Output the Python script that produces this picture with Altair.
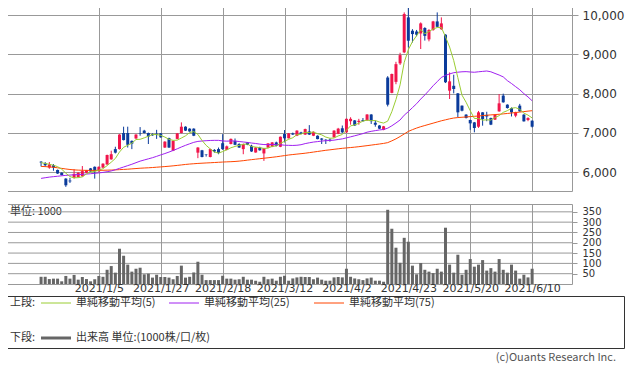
import altair as alt
import pandas as pd

# ---------------- data ----------------
market_holidays = ["2020-12-31", "2021-01-01", "2021-01-11", "2021-02-11", "2021-02-23",
                   "2021-04-29", "2021-05-03", "2021-05-04", "2021-05-05"]
trade_days = pd.bdate_range("2020-12-14", "2021-06-10", freq="C", holidays=market_holidays)
dates = [f"{d.year}/{d.month}/{d.day}" for d in trade_days]

tick_dates = ["2021/1/5", "2021/1/27", "2021/2/18", "2021/3/12",
              "2021/4/2", "2021/4/23", "2021/5/20", "2021/6/10"]
price_ticks = [6000, 7000, 8000, 9000, 10000]
vol_ticks = [50, 100, 150, 200, 250, 300, 350]

opens = [6270, 6230, 6120, 6180, 6060, 5990, 5840, 5790, 5860, 5880,
         5900, 5990, 6100, 6140, 6030, 6120, 6200, 6330, 6590, 6590,
         7000, 7000, 6800, 6860, 7000, 7060, 7000, 6970, 6980, 6990,
         6630, 6870, 6550, 6850, 7000, 7160, 7110, 7110, 6500, 6560,
         6450, 6390, 6570, 6590, 6740, 6570, 6720, 6800, 6720, 6590,
         6760, 6675, 6505, 6630, 6480, 6630, 6650, 6760, 6650, 6975,
         6865, 6990, 6930, 7015, 6960, 7040, 6930, 6930, 6860, 6830,
         6830, 6890, 6980, 7120, 7017, 7300, 7320, 7280, 7330, 7320,
         7470, 7260, 7190, 7080, 8410, 8020, 8300, 8770, 9050, 9940,
         9600, 9580, 9530, 9670, 9380, 9617, 9837, 9640, 9500, 8076,
         8200, 8008, 7695, 7466, 7330, 7270, 7160, 7525, 7460, 7380,
         7340, 7550, 7950, 7720, 7635, 7440, 7695, 7466, 7330, 7313]
highs = [6285, 6260, 6260, 6210, 6070, 6000, 5850, 5860, 6080, 6000,
         6160, 6060, 6110, 6150, 6150, 6230, 6450, 6550, 6650, 6970,
         7160, 7160, 6810, 6970, 7150, 7080, 7010, 6990, 7080, 7000,
         6790, 6880, 6810, 7000, 7270, 7170, 7120, 7120, 6640, 6570,
         6460, 6600, 6590, 6630, 6970, 6680, 6860, 6860, 6740, 6730,
         6770, 6700, 6640, 6650, 6620, 6740, 6770, 6780, 6910, 7075,
         7000, 7010, 7070, 7030, 7110, 7200, 7040, 6940, 6870, 6840,
         6860, 7070, 7130, 7190, 7370, 7400, 7330, 7360, 7380, 7480,
         7480, 7320, 7200, 7180, 8445, 8510, 8810, 9040, 10066, 10210,
         9640, 9620, 9812, 9690, 9640, 9850, 10066, 9940, 9510, 8540,
         8482, 8015, 7700, 7480, 7340, 7280, 7560, 7530, 7540, 7390,
         7480, 7990, 8000, 7730, 7650, 7540, 7740, 7480, 7400, 7320]
lows = [6150, 6140, 6090, 6040, 5960, 5920, 5630, 5730, 5840, 5870,
        5890, 5980, 6010, 5840, 6010, 6110, 6190, 6320, 6480, 6580,
        6810, 6630, 6590, 6850, 6930, 6990, 6720, 6930, 6850, 6880,
        6620, 6620, 6540, 6840, 6990, 7050, 7030, 6920, 6360, 6380,
        6400, 6380, 6500, 6460, 6570, 6560, 6710, 6690, 6620, 6460,
        6690, 6520, 6500, 6550, 6290, 6620, 6640, 6660, 6640, 6760,
        6860, 6950, 6920, 6970, 6950, 6950, 6920, 6840, 6720, 6720,
        6780, 6880, 6970, 7000, 7000, 7210, 7180, 7210, 7290, 7310,
        7230, 7160, 7100, 7070, 7675, 8010, 8240, 8730, 9030, 9177,
        9300, 9460, 9135, 9350, 9330, 9600, 9690, 9620, 8270, 7864,
        8008, 7400, 7550, 7370, 7080, 7017, 7130, 7186, 7300, 7200,
        7330, 7540, 7770, 7620, 7420, 7400, 7540, 7290, 7300, 7140]
closes = [6250, 6180, 6200, 6120, 5970, 5930, 5670, 5770, 5960, 5990,
          6030, 6050, 6020, 6030, 6140, 6220, 6440, 6460, 6500, 6960,
          6820, 6700, 6730, 6960, 6990, 7000, 6910, 6940, 6960, 6890,
          6780, 6630, 6800, 6990, 7160, 7060, 7040, 6930, 6630, 6390,
          6440, 6590, 6530, 6490, 6590, 6660, 6850, 6700, 6630, 6720,
          6700, 6530, 6630, 6560, 6615, 6735, 6760, 6675, 6905, 6865,
          6990, 6960, 7060, 6975, 7100, 6960, 7030, 6845, 6830, 6815,
          6810, 7060, 7110, 7017, 7360, 7360, 7190, 7310, 7300, 7470,
          7300, 7210, 7110, 7170, 7720, 8500, 8750, 8980, 10024, 9346,
          9515, 9500, 9787, 9470, 9620, 9837, 9700, 9787, 8290, 8313,
          8118, 7525, 7567, 7380, 7245, 7127, 7525, 7356, 7420, 7212,
          7457, 7754, 7780, 7635, 7525, 7525, 7550, 7296, 7380, 7160]
volumes = [35, 35, 24, 26, 26, 13, 39, 26, 44, 21,
           34, 24, 13, 23, 39, 35, 69, 87, 55, 171,
           137, 94, 60, 74, 79, 47, 50, 31, 45, 34,
           34, 31, 23, 39, 89, 31, 35, 56, 108, 45,
           19, 19, 19, 19, 40, 26, 26, 21, 23, 35,
           21, 21, 16, 11, 35, 23, 26, 16, 35, 40,
           16, 27, 32, 35, 34, 34, 23, 31, 21, 16,
           16, 32, 34, 32, 74, 35, 27, 23, 19, 27,
           31, 16, 16, 11, 360, 268, 176, 103, 224, 205,
           89, 47, 102, 69, 60, 53, 74, 60, 273, 94,
           55, 142, 45, 69, 121, 84, 94, 116, 65, 77,
           60, 121, 69, 55, 94, 65, 26, 45, 32, 74]
ma5 = [6245, 6225, 6205, 6180, 6144, 6080, 5978, 5892, 5860, 5864,
       5884, 5960, 6010, 6024, 6054, 6092, 6170, 6258, 6352, 6516,
       6636, 6688, 6742, 6834, 6840, 6876, 6918, 6960, 6960, 6940,
       6896, 6840, 6812, 6818, 6872, 6928, 7010, 7036, 6964, 6810,
       6686, 6596, 6516, 6488, 6528, 6572, 6624, 6658, 6686, 6712,
       6720, 6656, 6642, 6628, 6607, 6614, 6660, 6669, 6738, 6788,
       6839, 6879, 6956, 6970, 7017, 7011, 7025, 6982, 6953, 6896,
       6866, 6872, 6925, 6962, 7071, 7181, 7207, 7247, 7304, 7326,
       7314, 7318, 7278, 7252, 7302, 7542, 7850, 8224, 8795, 9120,
       9323, 9473, 9634, 9524, 9578, 9643, 9683, 9683, 9447, 9185,
       8842, 8407, 7963, 7781, 7567, 7369, 7369, 7327, 7335, 7328,
       7394, 7440, 7525, 7568, 7630, 7644, 7603, 7506, 7455, 7382]
ma25 = [5846, 5862, 5878, 5890, 5900, 5912, 5922, 5930, 5937, 5943,
        5948, 5955, 5964, 5974, 5985, 5998, 6015, 6035, 6065, 6100,
        6135, 6170, 6205, 6245, 6284, 6314, 6343, 6372, 6406, 6443,
        6477, 6515, 6556, 6598, 6644, 6686, 6725, 6762, 6786, 6796,
        6804, 6810, 6813, 6813, 6798, 6792, 6798, 6796, 6783, 6772,
        6760, 6745, 6733, 6717, 6706, 6704, 6709, 6704, 6701, 6689,
        6686, 6683, 6688, 6702, 6730, 6751, 6769, 6781, 6795, 6804,
        6810, 6818, 6835, 6850, 6876, 6902, 6929, 6956, 6985, 7020,
        7042, 7060, 7078, 7088, 7122, 7183, 7254, 7331, 7453, 7543,
        7645, 7744, 7862, 7967, 8080, 8201, 8306, 8413, 8464, 8502,
        8533, 8546, 8556, 8560, 8551, 8544, 8556, 8566, 8576, 8556,
        8514, 8474, 8426, 8331, 8258, 8178, 8100, 8001, 7917, 7819]
ma75 = [6150, 6145, 6138, 6128, 6115, 6100, 6085, 6072, 6062, 6056,
        6052, 6050, 6049, 6049, 6050, 6052, 6055, 6058, 6062, 6068,
        6074, 6080, 6088, 6096, 6104, 6110, 6115, 6122, 6130, 6138,
        6146, 6155, 6165, 6176, 6188, 6200, 6210, 6218, 6226, 6232,
        6238, 6243, 6249, 6255, 6261, 6266, 6270, 6276, 6285, 6296,
        6310, 6322, 6334, 6346, 6358, 6370, 6382, 6395, 6410, 6425,
        6440, 6452, 6463, 6474, 6486, 6500, 6515, 6530, 6545, 6560,
        6572, 6585, 6598, 6610, 6620, 6630, 6640, 6652, 6665, 6678,
        6692, 6706, 6720, 6735, 6755, 6800, 6850, 6910, 6975, 7040,
        7085, 7125, 7160, 7190, 7220, 7250, 7280, 7310, 7335, 7360,
        7380, 7392, 7400, 7408, 7416, 7424, 7432, 7442, 7452, 7460,
        7468, 7476, 7486, 7496, 7508, 7520, 7532, 7544, 7556, 7567]

ma_labels = ["単純移動平均(5)", "単純移動平均(25)", "単純移動平均(75)"]
upper_label = "上段:"
lower_label = "下段:"
volume_label = "出来高 単位:(1000株/口/枚)"
unit_label = "単位: 1000"
credit = "(c)Ouants Research Inc."

n = min(len(dates), len(opens))
df = pd.DataFrame({
    "i": list(range(n)), "date": dates[:n], "open": opens[:n], "high": highs[:n],
    "low": lows[:n], "close": closes[:n], "volume": volumes[:n],
    "ma5": ma5[:n], "ma25": ma25[:n], "ma75": ma75[:n],
})
df["dir"] = ["up" if c >= o else "down" for o, c in zip(df["open"], df["close"])]

# trading-day index of each labelled date
tick_pos = [dates.index(d) for d in tick_dates]
label_expr = ("[" + ",".join(f"'{d}'" for d in tick_dates) + "][indexof(["
              + ",".join(str(p) for p in tick_pos) + "], datum.value)]")

# ---------------- styles ----------------
RED = "#F0154B"
BLUE = "#0B3B9B"
GRID = "#999999"
C5, C25, C75 = "#9ACD32", "#A020F0", "#FF4500"
VOLC = "#666666"
JP = "Noto Sans CJK JP"
LAT = "DejaVu Sans"
W = 571

xscale = alt.Scale(domain=[-8.5, 127.45], nice=False, zero=False)

def xenc(axis):
    return alt.X("i:Q", scale=xscale, axis=axis)

x_axis_p = alt.Axis(values=tick_pos, labels=False, ticks=False, domain=False,
                    grid=True, gridColor=GRID, gridWidth=1, title=None)
y_axis_p = alt.Axis(orient="right", values=price_ticks, format=",d", grid=True,
                    gridColor=GRID, gridWidth=1, tickColor=GRID, tickSize=6,
                    domain=False, labelFont=LAT, labelFontSize=12, labelColor="#333",
                    labelPadding=4, title=None)
yscale_p = alt.Scale(domain=[5525, 10356], nice=False, zero=False)
color = alt.Color("dir:N", scale=alt.Scale(domain=["up", "down"], range=[RED, BLUE]), legend=None)

base = alt.Chart(df)
wicks = base.mark_rule(strokeWidth=1).encode(
    x=xenc(x_axis_p), y=alt.Y("low:Q", scale=yscale_p, axis=y_axis_p), y2="high:Q", color=color)
bodies = base.mark_bar(size=3).encode(
    x=xenc(x_axis_p), y=alt.Y("open:Q", scale=yscale_p, axis=y_axis_p), y2="close:Q", color=color)

def ma_line(field, c):
    return base.mark_line(color=c, strokeWidth=1).encode(
        x=xenc(x_axis_p), y=alt.Y(f"{field}:Q", scale=yscale_p, axis=y_axis_p))

price = alt.layer(wicks, bodies, ma_line("ma75", C75), ma_line("ma25", C25),
                  ma_line("ma5", C5)).properties(width=W, height=190)

x_axis_v = alt.Axis(values=tick_pos, labelExpr=label_expr, grid=True, gridColor=GRID,
                    gridWidth=1, ticks=False, domain=False, labelFont=LAT, labelFontSize=11,
                    labelColor="#333", labelAngle=0, labelPadding=-2, title=None)
y_axis_v = alt.Axis(orient="right", values=vol_ticks, grid=False, tickColor=GRID, tickSize=5,
                    domain=False, labelFont=LAT, labelFontSize=10, labelColor="#333",
                    labelPadding=5, title=None)
yscale_v = alt.Scale(domain=[0, 388], nice=False)

unit = alt.Chart(pd.DataFrame({"t": [unit_label]})).mark_text(
    align="left", baseline="middle", font=JP, fontSize=11, color="#333").encode(
    text="t:N", x=alt.value(9), y=alt.value(8))
vgrid = alt.Chart(pd.DataFrame({"v": vol_ticks})).mark_rule(color=GRID, strokeWidth=1).encode(
    y=alt.Y("v:Q", scale=yscale_v, axis=y_axis_v))
bars = base.mark_bar(size=3, color=VOLC).encode(
    x=xenc(x_axis_v), y=alt.Y("volume:Q", scale=yscale_v, axis=y_axis_v), y2=alt.datum(0))
volume = alt.layer(unit, vgrid, bars).properties(width=W, height=80)

def txt(s, x, y, align="left", size=11, c="#333"):
    return alt.Chart(pd.DataFrame({"t": [s]})).mark_text(
        align=align, baseline="middle", font=JP, fontSize=size, color=c).encode(
        text="t:N", x=alt.value(x), y=alt.value(y))

def seg(x1, x2, y, c, w):
    return alt.Chart(pd.DataFrame({"k": [0]})).mark_rule(color=c, strokeWidth=w).encode(
        x=alt.value(x1), x2=alt.value(x2), y=alt.value(y))

legend = alt.layer(
    txt(upper_label, 9, 7),
    seg(40, 70, 7, C5, 1), txt(ma_labels[0], 75, 7),
    seg(168, 198, 7, C25, 1), txt(ma_labels[1], 203, 7),
    seg(313, 343, 7, C75, 1), txt(ma_labels[2], 348, 7),
    txt(lower_label, 9, 42),
    seg(40, 70, 42, VOLC, 3), txt(volume_label, 75, 42),
    txt(credit, 615, 62, align="right", size=11, c="#555"),
).properties(width=623, height=52, view=alt.ViewBackground(stroke="#333", strokeWidth=1))

chart = alt.vconcat(
    alt.vconcat(price, volume, spacing=11),
    legend, spacing=1,
).properties(
    padding={"left": -8, "top": -8, "right": 0, "bottom": 0},
    background="white",
).configure_view(stroke=GRID, strokeWidth=1)

chart.save("out.html", embed_options={"renderer": "svg", "actions": False})
